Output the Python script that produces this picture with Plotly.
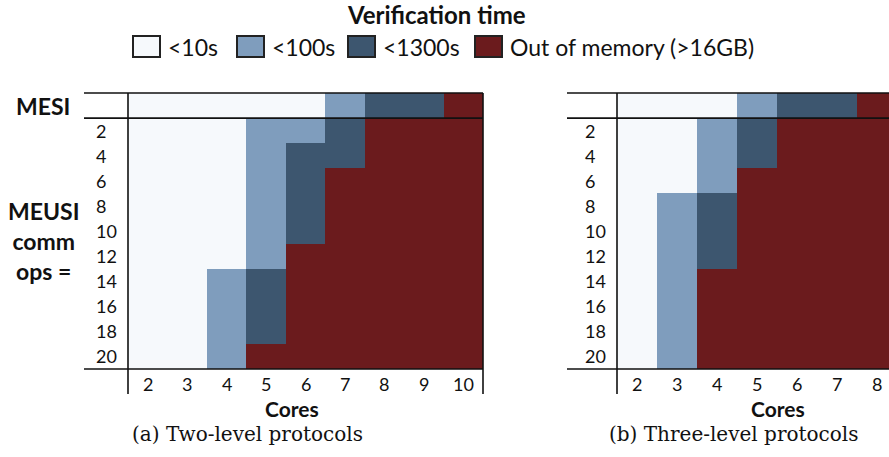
import plotly.graph_objects as go

W, H = 889, 457

# ---------------- data ----------------
categories = ["<10s", "<100s", "<1300s", "Out of memory (>16GB)"]
cat_colors = ["#f6f9fc", "#7f9dbd", "#3d566f", "#6b1b1d"]

cores_a = [2, 3, 4, 5, 6, 7, 8, 9, 10]
cores_b = [2, 3, 4, 5, 6, 7, 8]
comm_ops = [2, 4, 6, 8, 10, 12, 14, 16, 18, 20]

# category index: 0 = <10s, 1 = <100s, 2 = <1300s, 3 = out of memory
mesi_a = [0, 0, 0, 0, 0, 1, 2, 2, 3]
meusi_a = [
    [0, 0, 0, 1, 1, 2, 3, 3, 3],   # 2
    [0, 0, 0, 1, 2, 2, 3, 3, 3],   # 4
    [0, 0, 0, 1, 2, 3, 3, 3, 3],   # 6
    [0, 0, 0, 1, 2, 3, 3, 3, 3],   # 8
    [0, 0, 0, 1, 2, 3, 3, 3, 3],   # 10
    [0, 0, 0, 1, 3, 3, 3, 3, 3],   # 12
    [0, 0, 1, 2, 3, 3, 3, 3, 3],   # 14
    [0, 0, 1, 2, 3, 3, 3, 3, 3],   # 16
    [0, 0, 1, 2, 3, 3, 3, 3, 3],   # 18
    [0, 0, 1, 3, 3, 3, 3, 3, 3],   # 20
]
mesi_b = [0, 0, 0, 1, 2, 2, 3]
meusi_b = [
    [0, 0, 1, 2, 3, 3, 3],   # 2
    [0, 0, 1, 2, 3, 3, 3],   # 4
    [0, 0, 1, 3, 3, 3, 3],   # 6
    [0, 1, 2, 3, 3, 3, 3],   # 8
    [0, 1, 2, 3, 3, 3, 3],   # 10
    [0, 1, 2, 3, 3, 3, 3],   # 12
    [0, 1, 3, 3, 3, 3, 3],   # 14
    [0, 1, 3, 3, 3, 3, 3],   # 16
    [0, 1, 3, 3, 3, 3, 3],   # 18
    [0, 1, 3, 3, 3, 3, 3],   # 20
]
captions = ["(a) Two-level protocols", "(b) Three-level protocols"]
legend_title = "Verification time"

# ---------------- styling ----------------
SANS = "Lato, 'Noto Sans', sans-serif"
SERIF = "'DejaVu Serif', serif"
INK = "#111111"

def px(x):
    return x / W

def py(y):
    return 1 - y / H

n = len(cat_colors)
cscale = []
for i, c in enumerate(cat_colors):
    cscale.append([i / n, c])
    cscale.append([(i + 1) / n, c])

row_idx = list(range(len(comm_ops) + 1))   # 0 = MESI row
plot_top, plot_bot = 93, 369

panels = [
    dict(cores=cores_a, mesi=mesi_a, meusi=meusi_a, left=128, right=483,
         line_left=84, col_w=None, cap_x=247, cores_x=292, xa="x", ya="y"),
    dict(cores=cores_b, mesi=mesi_b, meusi=meusi_b, left=617, right=889,
         line_left=567, col_w=40, cap_x=733, cores_x=778, xa="x2", ya="y2"),
]

fig = go.Figure()
shapes = []
annotations = []

for k, p in enumerate(panels):
    z = [p["mesi"]] + p["meusi"]
    fig.add_trace(go.Heatmap(
        x=p["cores"], y=row_idx, z=z, zmin=-0.5, zmax=n - 0.5,
        colorscale=cscale, showscale=False, xaxis=p["xa"], yaxis=p["ya"],
        hoverinfo="skip"))
    sfx = "" if k == 0 else str(k + 1)
    if p["col_w"] is None:
        xr = [p["cores"][0] - 0.5, p["cores"][-1] + 0.5]
    else:
        xr = [p["cores"][0] - 0.5, p["cores"][0] - 0.5 + (p["right"] - p["left"]) / p["col_w"]]
    fig.update_layout(**{
        "xaxis" + sfx: dict(domain=[px(p["left"]), px(p["right"])], range=xr,
                            visible=False, fixedrange=True),
        "yaxis" + sfx: dict(domain=[py(plot_bot), py(plot_top)],
                            range=[len(row_idx) - 0.5, -0.5],
                            visible=False, fixedrange=True),
    })
    # frame lines
    sep_y = plot_top + (plot_bot - plot_top) / len(row_idx)
    for yy in (plot_top, sep_y, plot_bot):
        shapes.append(dict(type="line", xref="paper", yref="paper",
                           x0=px(p["line_left"]), x1=px(p["right"]) + (0.01 if k == 1 else 0),
                           y0=py(yy), y1=py(yy), line=dict(color=INK, width=1.6)))
    shapes.append(dict(type="line", xref="paper", yref="paper",
                       x0=px(p["left"]), x1=px(p["left"]), y0=py(plot_top), y1=py(394),
                       line=dict(color=INK, width=1.6)))
    if k == 0:
        shapes.append(dict(type="line", xref="paper", yref="paper",
                           x0=px(p["right"]), x1=px(p["right"]), y0=py(plot_top), y1=py(394),
                           line=dict(color=INK, width=1.6)))
    # y tick labels (left aligned)
    for i, v in enumerate(comm_ops):
        annotations.append(dict(text=str(v), xref="paper", yref=p["ya"],
                                x=px(p["left"] - 34), y=i + 1, xanchor="left",
                                yanchor="middle", showarrow=False,
                                font=dict(family=SANS, size=18, color=INK)))
    # x tick labels
    for c in p["cores"]:
        annotations.append(dict(text=str(c), xref=p["xa"], yref="paper",
                                x=c, y=py(384), xanchor="center", yanchor="middle",
                                showarrow=False,
                                font=dict(family=SANS, size=18, color=INK)))
    annotations.append(dict(text="Cores", xref="paper", yref="paper",
                            x=px(p["cores_x"]), y=py(408), xanchor="center",
                            yanchor="middle", showarrow=False,
                            font=dict(family=SANS, size=21, color=INK, weight="bold")))
    annotations.append(dict(text=captions[k], xref="paper", yref="paper",
                            x=px(p["cap_x"]), y=py(434), xanchor="center",
                            yanchor="middle", showarrow=False,
                            font=dict(family=SERIF, size=20, color=INK)))

# row group labels (left panel)
annotations.append(dict(text="MESI", xref="paper", yref="y", x=px(43), y=0,
                        xanchor="center", yanchor="middle", showarrow=False,
                        font=dict(family=SANS, size=23, color=INK, weight="bold")))
annotations.append(dict(text="MEUSI<br>comm<br>ops =", xref="paper", yref="paper",
                        x=px(43), y=py(241), xanchor="center", yanchor="middle",
                        showarrow=False, align="center",
                        font=dict(family=SANS, size=23, color=INK, weight="bold")))

# legend (drawn manually)
annotations.append(dict(text=legend_title, xref="paper", yref="paper",
                        x=px(436), y=py(15), xanchor="center", yanchor="middle",
                        showarrow=False,
                        font=dict(family=SANS, size=24, color=INK, weight="bold")))
legend_box_x = [133, 237, 348, 475]
for bx, lab, col in zip(legend_box_x, categories, cat_colors):
    shapes.append(dict(type="rect", xref="paper", yref="paper",
                       x0=px(bx), x1=px(bx + 27), y0=py(36), y1=py(57),
                       fillcolor=col, line=dict(color="#222222", width=2)))
    annotations.append(dict(text=lab, xref="paper", yref="paper",
                            x=px(bx + 33), y=py(46.5), xanchor="left", yanchor="middle",
                            showarrow=False,
                            font=dict(family=SANS, size=23, color=INK)))

fig.update_layout(width=W, height=H, margin=dict(l=0, r=0, t=0, b=0),
                  paper_bgcolor="white", plot_bgcolor="white",
                  shapes=shapes, annotations=annotations, showlegend=False)
fig.write_html("out.html")
